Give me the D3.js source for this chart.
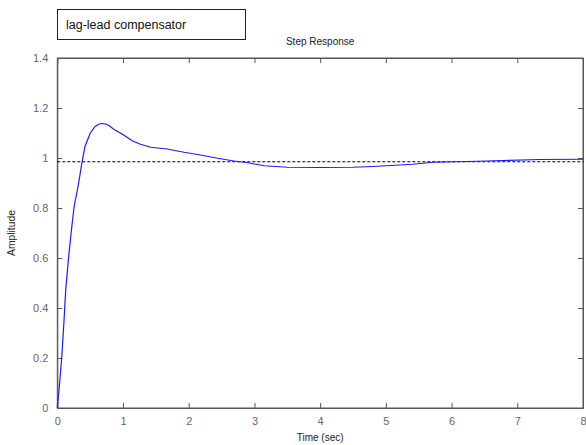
<!DOCTYPE html>
<html><head><meta charset="utf-8">
<script src="https://cdn.jsdelivr.net/npm/d3@7"></script>
<style>body{margin:0;background:#fff;}svg{display:block;font-family:"Liberation Sans",Arial,sans-serif;}</style>
</head><body>
<svg id="c" width="586" height="445"></svg>
<script>
const time = [0, 0.026, 0.067, 0.10, 0.128, 0.168, 0.21, 0.255, 0.32, 0.373, 0.42, 0.50, 0.576, 0.63, 0.68, 0.73, 0.78, 0.86, 1.01, 1.14, 1.265, 1.42, 1.67, 1.93, 2.18, 2.44, 2.69, 2.90, 3.0, 3.15, 3.5, 4.0, 4.5, 4.8, 5.0, 5.41, 5.72, 6.08, 6.54, 7.35, 8.0];
const amplitude = [0, 0.072, 0.2, 0.34, 0.472, 0.592, 0.70, 0.804, 0.892, 0.979, 1.045, 1.099, 1.126, 1.135, 1.138, 1.136, 1.131, 1.115, 1.092, 1.069, 1.055, 1.043, 1.036, 1.023, 1.012, 0.999, 0.988, 0.981, 0.976, 0.969, 0.963, 0.962, 0.963, 0.966, 0.969, 0.975, 0.983, 0.985, 0.988, 0.994, 0.995];
const steadyState = [0.985];
const xTicks = [0, 1, 2, 3, 4, 5, 6, 7, 8];
const yTicks = [0, 0.2, 0.4, 0.6, 0.8, 1, 1.2, 1.4];
const title = "Step Response";
const xLabel = "Time (sec)";
const yLabel = "Amplitude";
const legendText = "lag-lead compensator";

const svg = d3.select("#c");
const L = 57.3, R = 583, T = 58, B = 408;
const x = d3.scaleLinear().domain([0, 8]).range([L, R]);
const y = d3.scaleLinear().domain([0, 1.4]).range([B, T]);
const axisColor = "#555";
const tickLen = 5;

svg.append("rect").attr("x", L).attr("y", T).attr("width", R - L).attr("height", B - T)
  .attr("fill", "#fff").attr("stroke", axisColor).attr("stroke-width", 1);

const fmt = d => d3.format("~g")(d);
const gx = svg.append("g").attr("transform", `translate(0,${B})`)
  .call(d3.axisBottom(x).tickValues(xTicks).tickFormat(fmt).tickSizeInner(-tickLen).tickSizeOuter(0).tickPadding(9));
const gxt = svg.append("g").attr("transform", `translate(0,${T})`)
  .call(d3.axisTop(x).tickValues(xTicks).tickFormat("").tickSizeInner(-tickLen).tickSizeOuter(0));
const gy = svg.append("g").attr("transform", `translate(${L},0)`)
  .call(d3.axisLeft(y).tickValues(yTicks).tickFormat(fmt).tickSizeInner(-tickLen).tickSizeOuter(0).tickPadding(9));
const gyr = svg.append("g").attr("transform", `translate(${R},0)`)
  .call(d3.axisRight(y).tickValues(yTicks).tickFormat("").tickSizeInner(-tickLen).tickSizeOuter(0));
[gx, gxt, gy, gyr].forEach(g => {
  g.select(".domain").attr("stroke", axisColor);
  g.selectAll(".tick line").attr("stroke", axisColor);
  g.selectAll(".tick text").attr("fill", "#666").style("font-size", "11px").style("font-family", "'Liberation Sans',Arial,sans-serif");
});

svg.append("line").attr("x1", x(0)).attr("x2", x(8)).attr("y1", y(steadyState[0])).attr("y2", y(steadyState[0]))
  .attr("stroke", "#000").attr("stroke-width", 1).attr("stroke-dasharray", "3,2");

const pts = time.map((t, i) => [t, amplitude[i]]);
svg.append("path").datum(pts)
  .attr("d", d3.line().x(d => x(d[0])).y(d => y(d[1])))
  .attr("fill", "none").attr("stroke", "#1a1aff").attr("stroke-width", 1.2);

svg.append("text").attr("x", (L + R) / 2).attr("y", 45).attr("text-anchor", "middle")
  .style("font-size", "10px").attr("fill", "#222").text(title);
svg.append("text").attr("x", (L + R) / 2).attr("y", 441).attr("text-anchor", "middle")
  .style("font-size", "10px").attr("fill", "#222").text(xLabel);
svg.append("text").attr("transform", `translate(15,${233}) rotate(-90)`).attr("text-anchor", "middle")
  .style("font-size", "10px").attr("fill", "#222").attr("textLength", 46).attr("lengthAdjust", "spacingAndGlyphs").text(yLabel);

svg.append("rect").attr("x", 57.5).attr("y", 9.5).attr("width", 188).attr("height", 30)
  .attr("fill", "#fff").attr("stroke", "#222").attr("stroke-width", 1);
svg.append("text").attr("x", 66).attr("y", 29).style("font-size", "12.5px").attr("fill", "#111").text(legendText);
</script>
</body></html>
